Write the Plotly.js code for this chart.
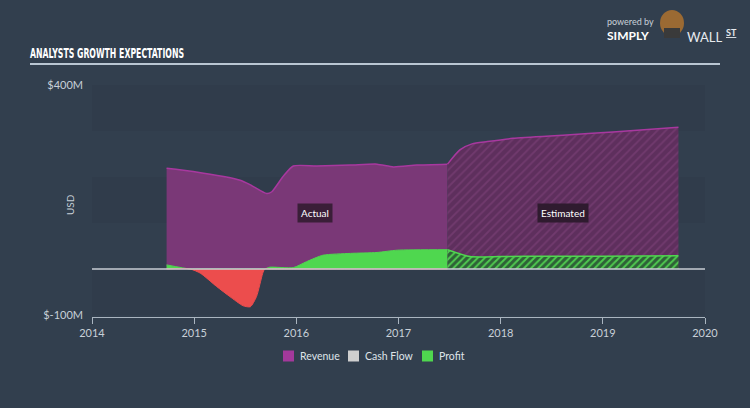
<!DOCTYPE html>
<html>
<head>
<meta charset="utf-8">
<script src="https://cdn.plot.ly/plotly-3.0.1.min.js"></script>
<style>
html,body{margin:0;padding:0;background:#323f4e;}
#chart{width:750px;height:408px;}
</style>
</head>
<body>
<div id="chart"></div>
<script>
// ---- data (USD millions, x in fractional years) ----
var revActualDates = [2014.73, 2014.99, 2015.45, 2015.55, 2015.71, 2015.76, 2015.87, 2015.97, 2016.20, 2016.53, 2016.79, 2016.95, 2017.18, 2017.48];
var revActual      = [219, 212, 193, 183, 164, 168, 201, 224, 224, 226, 228, 222, 226, 228];
var revEstDates    = [2017.48, 2017.60, 2017.72, 2017.87, 2018.12, 2018.61, 2019.10, 2019.74];
var revEst         = [228, 259, 272, 277, 284, 291, 298, 308];

var profitActualDates = [2014.73, 2014.96, 2015.06, 2015.22, 2015.35, 2015.48, 2015.55, 2015.61, 2015.67, 2015.69, 2015.74, 2015.97, 2016.10, 2016.26, 2016.53, 2016.79, 2016.99, 2017.48];
var profitActual      = [9, 0, -9, -38, -60, -80, -82, -60, -10, 0, 4, 3, 16, 30, 34, 36, 41, 42];
var profitEstDates    = [2017.48, 2017.70, 2018.0, 2018.5, 2019.0, 2019.74];
var profitEst         = [42, 27, 27, 28, 28, 29];

var xTicks = [2014, 2015, 2016, 2017, 2018, 2019, 2020];
var yTickVals = [-100, 400];
var yTickText = ['$-100M', '$400M'];
var legendNames = ['Revenue', 'Cash Flow', 'Profit'];
var legendColors = ['#a3399b', '#cfcfcf', '#4fd74f'];

// ---- helpers ----
function pos(arr){ return arr.map(function(v){ return Math.max(v, 0); }); }
function neg(arr){ return arr.map(function(v){ return Math.min(v, 0); }); }
var L = 92, R = 705, T = 85, B = 317;
function px(x){ return (x - L) / (R - L); }
function py(y){ return (B - y) / (B - T); }

var purpleFill = '#7a3877', purpleLine = '#a8389f';
var greenFill = '#4fd74f', redFill = '#ec4d4d';

var traces = [
  {x: revActualDates, y: revActual, type: 'scatter', mode: 'lines', fill: 'tozeroy',
   fillcolor: purpleFill, line: {color: purpleLine, width: 1.5, shape: 'spline', smoothing: 0.6},
   name: legendNames[0], showlegend: false, hoverinfo: 'skip'},
  {x: revEstDates, y: revEst, type: 'scatter', mode: 'lines', fill: 'tozeroy',
   fillcolor: '#5d2f5c',
   fillpattern: {shape: '/', bgcolor: '#5e2f5d', fgcolor: '#713a6e', size: 6, solidity: 0.3},
   line: {color: purpleLine, width: 1.5, shape: 'spline', smoothing: 0.6},
   name: legendNames[0], showlegend: false, hoverinfo: 'skip'},
  {x: profitActualDates, y: pos(profitActual), type: 'scatter', mode: 'lines', fill: 'tozeroy',
   fillcolor: greenFill, line: {color: greenFill, width: 1, shape: 'spline', smoothing: 0.6},
   name: legendNames[2], showlegend: false, hoverinfo: 'skip'},
  {x: profitActualDates, y: neg(profitActual), type: 'scatter', mode: 'lines', fill: 'tozeroy',
   fillcolor: redFill, line: {color: redFill, width: 1, shape: 'spline', smoothing: 0.6},
   name: legendNames[2], showlegend: false, hoverinfo: 'skip'},
  {x: profitEstDates, y: pos(profitEst), type: 'scatter', mode: 'lines', fill: 'tozeroy',
   fillcolor: '#2f6a3a',
   fillpattern: {shape: '/', bgcolor: '#2e6137', fgcolor: '#4fc94f', size: 5, solidity: 0.4},
   line: {color: greenFill, width: 1.5, shape: 'spline', smoothing: 0.6},
   name: legendNames[2], showlegend: false, hoverinfo: 'skip'}
];

var bandColor = 'rgba(0,0,0,0.035)';
var shapes = [
  {type: 'rect', xref: 'x', yref: 'y', x0: 2014, x1: 2020, y0: 300, y1: 400, fillcolor: bandColor, line: {width: 0}, layer: 'below'},
  {type: 'rect', xref: 'x', yref: 'y', x0: 2014, x1: 2020, y0: 100, y1: 200, fillcolor: bandColor, line: {width: 0}, layer: 'below'},
  {type: 'rect', xref: 'x', yref: 'y', x0: 2014, x1: 2020, y0: -100, y1: 0, fillcolor: bandColor, line: {width: 0}, layer: 'below'},
  {type: 'line', xref: 'x', yref: 'y', x0: 2014, x1: 2020, y0: 0, y1: 0, line: {color: '#c9ced4', width: 1.5}, layer: 'above'},
  {type: 'line', xref: 'paper', yref: 'paper', x0: px(30), x1: px(720), y0: py(64), y1: py(64), line: {color: '#b9c6d2', width: 2}},
  // logo head
  {type: 'circle', xref: 'paper', yref: 'paper', x0: px(660), x1: px(684), y0: py(36), y1: py(10), fillcolor: '#9b6a33', line: {width: 0}},
  {type: 'rect', xref: 'paper', yref: 'paper', x0: px(664), x1: px(680), y0: py(38), y1: py(28), fillcolor: '#3a3a3a', line: {width: 0}}
];

var annotations = [
  {x: 2016.18, y: 122, xref: 'x', yref: 'y', text: 'Actual', showarrow: false,
   font: {family: 'Lato, sans-serif', size: 10, color: '#ffffff'}, bgcolor: '#3a1e38', borderpad: 3},
  {x: 2018.61, y: 122, xref: 'x', yref: 'y', text: 'Estimated', showarrow: false,
   font: {family: 'Lato, sans-serif', size: 10, color: '#ffffff'}, bgcolor: '#2f1b2f', borderpad: 3},
  {x: px(62), y: py(205), xref: 'paper', yref: 'paper', text: 'USD', textangle: -90, showarrow: false,
   font: {family: 'Lato, sans-serif', size: 10, color: '#c8d0d8'}},
  {x: px(605), y: py(14), xref: 'paper', yref: 'paper', xanchor: 'left', text: 'powered by', showarrow: false,
   font: {family: 'Lato, sans-serif', size: 9, color: '#c8d0d8'}},
  {x: px(605), y: py(26), xref: 'paper', yref: 'paper', xanchor: 'left', text: '<b>SIMPLY</b>', showarrow: false,
   font: {family: 'Lato, sans-serif', size: 12, color: '#ffffff'}},
  {x: px(685), y: py(27), xref: 'paper', yref: 'paper', xanchor: 'left', text: 'WALL', showarrow: false,
   font: {family: 'Lato, sans-serif', size: 13, color: '#e6eaee'}},
  {x: px(724), y: py(25), xref: 'paper', yref: 'paper', xanchor: 'left', text: '<b><u>ST</u></b>', showarrow: false,
   font: {family: 'Lato, sans-serif', size: 9, color: '#e6eaee'}}
];

// manual legend (square swatch + label per series)
var legendLeft = [283, 348, 422];
legendNames.forEach(function(name, i){
  shapes.push({type: 'rect', xref: 'paper', yref: 'paper',
    x0: px(legendLeft[i]), x1: px(legendLeft[i] + 11), y0: py(361.5), y1: py(350.5),
    fillcolor: legendColors[i], line: {width: 0}});
  annotations.push({x: px(legendLeft[i] + 15), y: py(356), xref: 'paper', yref: 'paper',
    xanchor: 'left', yanchor: 'middle', text: name, showarrow: false,
    font: {family: 'Lato, sans-serif', size: 10.5, color: '#dfe4e9'}});
});

var layout = {
  width: 750, height: 408,
  paper_bgcolor: '#323f4e', plot_bgcolor: 'rgba(0,0,0,0)',
  margin: {l: L, r: 750 - R, t: T, b: 408 - B, pad: 0},
  font: {family: 'Lato, sans-serif', color: '#c8d0d8'},
  title: {text: '<b>ANALYSTS GROWTH EXPECTATIONS</b>', xref: 'container', yref: 'container',
          x: 30/750, xanchor: 'left', y: 1 - 53/408, yanchor: 'middle',
          font: {family: '"DejaVu Sans Condensed", "Liberation Sans Narrow", sans-serif', size: 14, color: '#ffffff'}},
  xaxis: {range: [2014, 2020], tickvals: xTicks, ticktext: xTicks.map(String),
          showgrid: false, zeroline: false, showline: true, linecolor: '#aab5c0', linewidth: 1,
          ticks: 'outside', ticklen: 6, tickcolor: '#aab5c0',
          tickfont: {size: 11, color: '#c8d0d8'}, fixedrange: true},
  yaxis: {range: [-104.3, 400], tickvals: yTickVals, ticktext: yTickText,
          showgrid: false, zeroline: false, showline: false, ticks: '',
          ticklabelstandoff: 8,
          tickfont: {size: 11, color: '#c8d0d8'}, fixedrange: true},
  showlegend: false,
  shapes: shapes,
  annotations: annotations
};

Plotly.newPlot('chart', traces, layout, {displayModeBar: false, staticPlot: true}).then(function(){
  // squeeze the title into the condensed width of the original heading font
  var t = document.querySelector('#chart .gtitle');
  if (t) { t.setAttribute('textLength', '154'); t.setAttribute('lengthAdjust', 'spacingAndGlyphs'); }
});
</script>
</body>
</html>
